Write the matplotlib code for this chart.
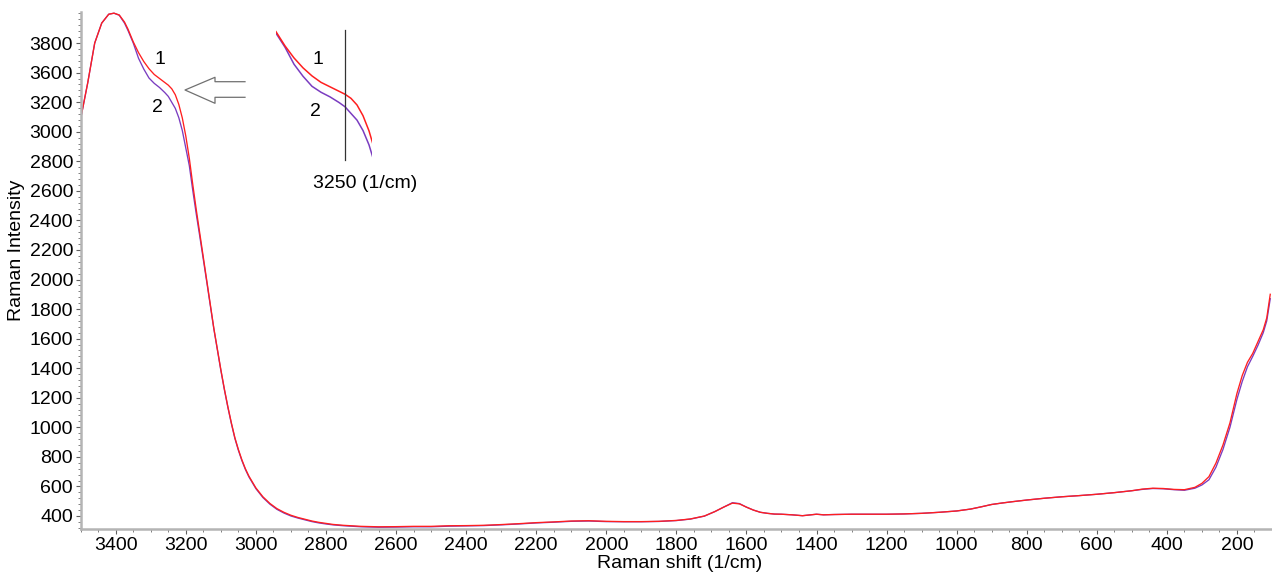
import matplotlib
matplotlib.use("Agg")
import matplotlib.pyplot as plt
from matplotlib.ticker import MultipleLocator, FixedLocator, FixedFormatter

# Raman shift grid (1/cm) shared by both spectra
shift = [3500, 3480, 3460, 3440, 3420, 3405, 3390, 3375, 3365, 3350, 3335, 3320,
         3305, 3290, 3275, 3260, 3250, 3240, 3230, 3220, 3210, 3200, 3190, 3180,
         3170, 3160, 3150, 3140, 3130, 3120, 3110, 3100, 3090, 3080, 3070, 3060,
         3050, 3040, 3030, 3020, 3000, 2980, 2960, 2940, 2920, 2900, 2880, 2860,
         2840, 2820, 2800, 2780, 2750, 2700, 2650, 2600, 2550, 2500, 2450, 2400,
         2350, 2300, 2250, 2200, 2150, 2100, 2050, 2000, 1950, 1900, 1850, 1800,
         1760, 1720, 1690, 1665, 1640, 1620, 1600, 1580, 1560, 1540, 1520, 1500,
         1470, 1440, 1410, 1400, 1380, 1350, 1300, 1250, 1200, 1150, 1100, 1050,
         1000, 960, 930, 900, 870, 840, 800, 750, 700, 650, 600, 550, 500, 470,
         440, 410, 380, 350, 320, 300, 280, 260, 240, 220, 200, 185, 170, 155,
         140, 125, 115, 105]

# Spectrum 1 (red)
spec1 = [3089, 3330, 3600, 3735, 3795, 3802, 3790, 3742, 3694, 3608, 3535, 3475,
         3426, 3387, 3360, 3333, 3315, 3290, 3250, 3185, 3093, 2970, 2820, 2640,
         2470, 2310, 2150, 1990, 1830, 1670, 1530, 1390, 1260, 1140, 1030, 930,
         850, 780, 720, 670, 590, 530, 485, 450, 425, 405, 390, 378,
         366, 357, 350, 343, 337, 330, 327, 328, 330, 330, 334, 335,
         337, 342, 348, 355, 360, 366, 368, 364, 362, 362, 364, 370,
         380, 400, 430, 460, 487, 482, 460, 440, 425, 418, 413, 412,
         408, 402, 410, 412, 408, 410, 412, 412, 412, 414, 418, 425,
         434, 447, 462, 478, 488, 497, 508, 520, 530, 538, 547, 558, 571, 582,
         588, 586, 580, 578, 594, 621, 666, 758, 880, 1030, 1230, 1350, 1440, 1500,
         1580, 1660, 1740, 1900]

# Spectrum 2 (purple)
spec2 = [3089, 3330, 3600, 3735, 3795, 3802, 3788, 3735, 3685, 3600, 3497, 3424,
         3363, 3327, 3299, 3265, 3239, 3199, 3158, 3095, 3008, 2890, 2770, 2600,
         2440, 2290, 2135, 1980, 1820, 1665, 1525, 1385, 1255, 1135, 1025, 925,
         845, 775, 715, 665, 585, 525, 480, 445, 420, 400, 386, 374,
         362, 353, 346, 340, 334, 327, 324, 325, 327, 327, 331, 333,
         335, 340, 346, 353, 358, 364, 366, 362, 361, 361, 363, 369,
         379, 399, 430, 460, 490, 484, 460, 440, 425, 418, 413, 412,
         408, 402, 410, 412, 408, 410, 412, 412, 412, 414, 418, 425,
         434, 447, 462, 478, 488, 497, 508, 520, 530, 538, 547, 558, 571, 580,
         586, 584, 578, 574, 588, 610, 645, 730, 850, 1000, 1190, 1310, 1410, 1480,
         1555, 1640, 1720, 1870]

# Intensity tick positions and the labels printed at them
ytick_pos = [400, 600, 800, 1000, 1200, 1400, 1600, 1800, 2000, 2200, 2400,
             2600, 2800, 3000, 3200, 3400, 3600]
ytick_lbl = ["400", "600", "800", "1000", "1200", "1400", "1600", "1800", "2000",
             "2200", "2400", "2600", "2800", "3000", "3200", "3600", "3800"]
xtick_pos = list(range(200, 3401, 200))

RED = "#ff1f1f"
PURPLE = "#7a3cc0"
W, H = 1272, 574
FS = 14

plt.rcParams["font.family"] = ["Liberation Sans", "DejaVu Sans"]
fig = plt.figure(figsize=(W / 100, H / 100), dpi=100)


def fx(px):
    return px / W


def fy(py):
    return 1 - py / H


ax = fig.add_axes([fx(80.7), fy(529.3), fx(W - 80.7), (529.3 - 12) / H])
ax.plot(shift, spec2, color=PURPLE, lw=0.95)
ax.plot(shift, spec1, color=RED, lw=0.95)
ax.set_xlim(3500, 100)
ax.set_ylim(310, 3810)

ax.xaxis.set_major_locator(FixedLocator(xtick_pos))
ax.xaxis.set_minor_locator(MultipleLocator(50))
ax.yaxis.set_major_locator(FixedLocator(ytick_pos))
ax.yaxis.set_major_formatter(FixedFormatter(ytick_lbl))
ax.yaxis.set_minor_locator(MultipleLocator(40))

for s in ("top", "right"):
    ax.spines[s].set_visible(False)
for s in ("left", "bottom"):
    ax.spines[s].set_color("#b4b4b4")
    ax.spines[s].set_linewidth(1.8)
ax.tick_params(which="major", direction="out", length=3.5, width=0.8,
               color="#606060", labelsize=FS, pad=2)
ax.tick_params(which="minor", direction="out", length=2, width=0.7, color="#808080")

fig.text(fx(17), fy(250), "Raman Intensity", rotation=90, ha="center",
         va="center", fontsize=FS)
fig.text(fx(680), fy(564), "Raman shift (1/cm)", ha="center", va="center",
         fontsize=FS)

# curve labels near the shoulder
fig.text(fx(160), fy(60), "1", ha="center", va="center", fontsize=FS)
fig.text(fx(157), fy(108), "2", ha="center", va="center", fontsize=FS)

# hollow arrow pointing at the shoulder
arrow_px = [(245, 81.7), (215, 81.7), (215, 77.3), (185, 90), (215, 103.3),
            (215, 97.3), (245, 97.3)]
fig.add_artist(plt.Line2D([fx(p[0]) for p in arrow_px], [fy(p[1]) for p in arrow_px],
                          color="#707070", lw=0.9, transform=fig.transFigure))

# magnified view of the shoulder around 3250 1/cm
ins = fig.add_axes([fx(276), fy(165), fx(96), 145 / H])
ins.plot(shift, spec2, color=PURPLE, lw=1.1)
ins.plot(shift, spec1, color=RED, lw=1.1)
ins.set_xlim(3365, 3205)
ins.set_ylim(2886, 3765)
ins.axis("off")
ins.axvline(3250, ymin=(165 - 160) / 145, ymax=(165 - 30) / 145, color="#333333",
            lw=0.9)
fig.text(fx(318), fy(59), "1", ha="center", va="center", fontsize=FS)
fig.text(fx(315), fy(111), "2", ha="center", va="center", fontsize=FS)
fig.text(fx(365), fy(184), "3250 (1/cm)", ha="center", va="center", fontsize=FS)

fig.savefig("out.png", dpi=100)
